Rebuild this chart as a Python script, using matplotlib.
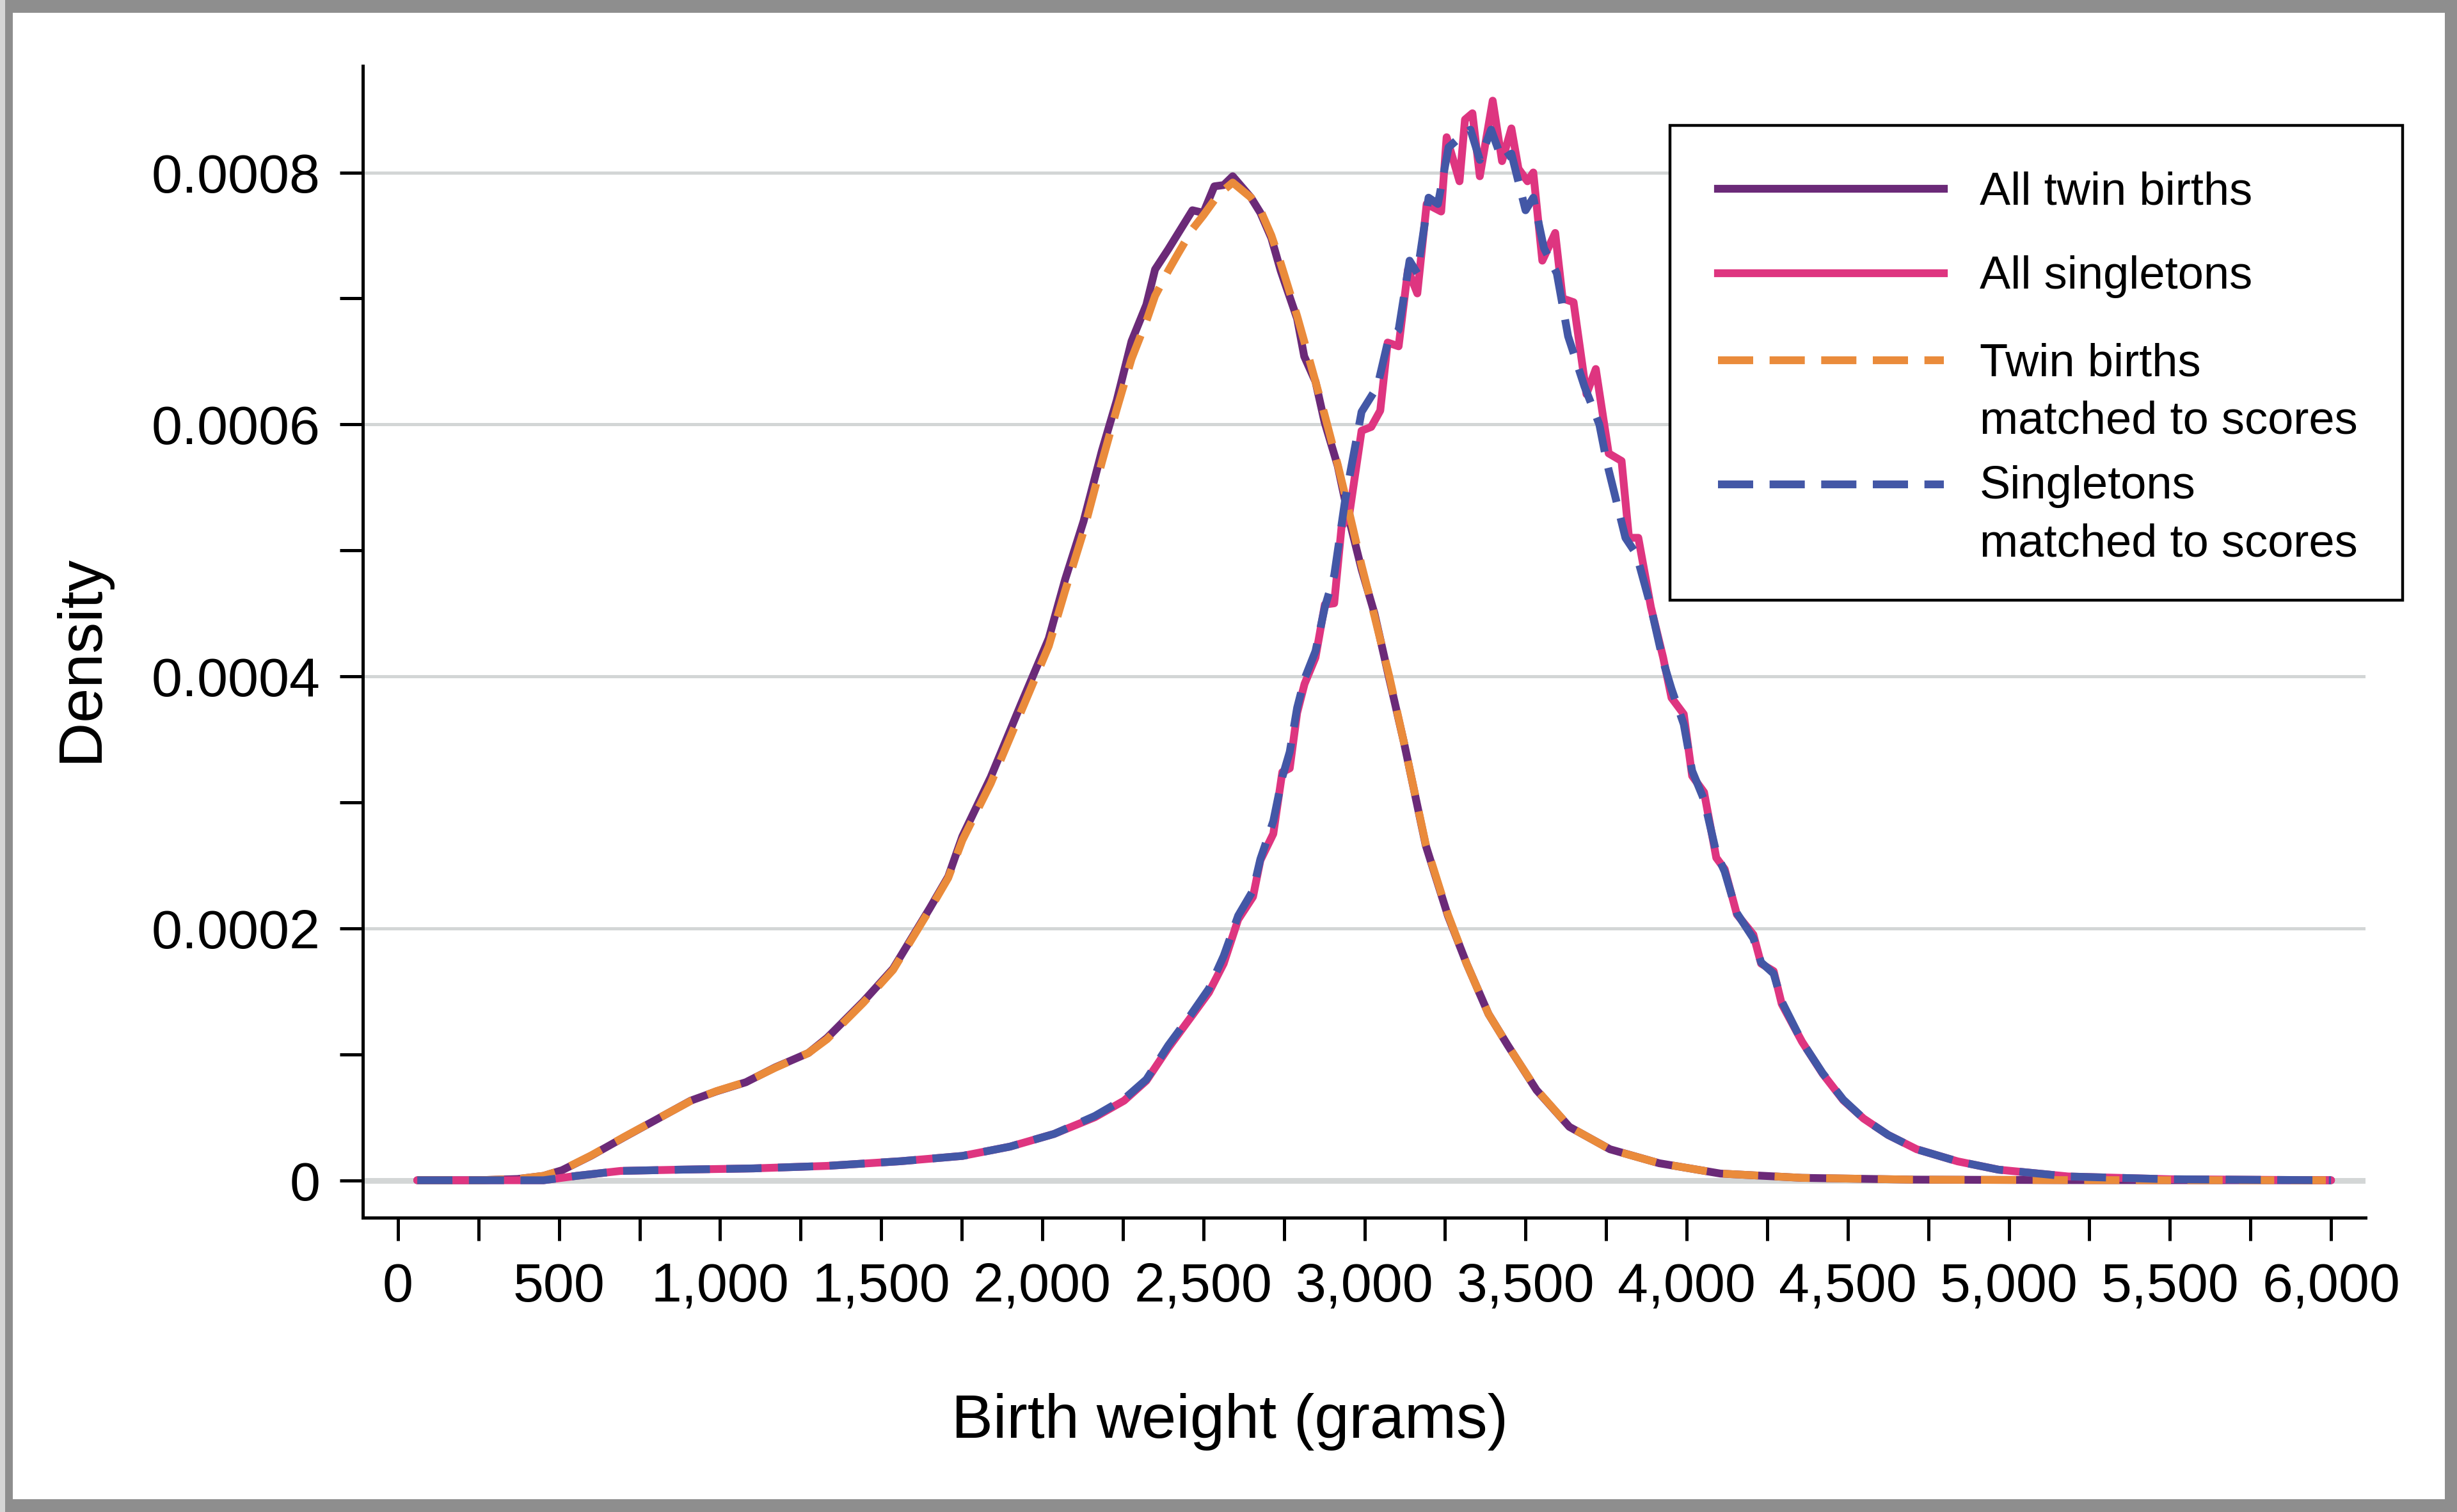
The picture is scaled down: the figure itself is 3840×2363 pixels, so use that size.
import numpy as np
import matplotlib
matplotlib.use("Agg")
import matplotlib.pyplot as plt
from matplotlib.lines import Line2D
from matplotlib.patches import Rectangle

# ---------------- data (density in units of 1e-4) ----------------
twin_bw = [60, 250, 372, 452, 509, 600, 703, 806, 909, 989, 1080, 1171, 1274, 1332, 1445,
           1537, 1594, 1651, 1708, 1752, 1840, 1934, 2020, 2071, 2128, 2185, 2231, 2277, 2323,
           2350, 2391, 2420, 2466, 2500, 2534, 2563, 2591, 2648, 2677, 2711, 2740, 2791, 2813,
           2848, 2876, 2917, 2951, 2991, 3031, 3077, 3123, 3190, 3259, 3317, 3385, 3445, 3534,
           3636, 3762, 3915, 4105, 4358, 4700, 5200, 6000]
twin_all = [0, 0, 0.01, 0.035, 0.079, 0.195, 0.343, 0.487, 0.632, 0.706, 0.778, 0.896, 1.01,
            1.13, 1.42, 1.68, 1.92, 2.16, 2.41, 2.73, 3.20, 3.78, 4.30, 4.77, 5.23, 5.79, 6.19,
            6.66, 6.95, 7.23, 7.39, 7.51, 7.70, 7.68, 7.89, 7.90, 7.97, 7.80, 7.68, 7.48, 7.22,
            6.84, 6.54, 6.34, 6.02, 5.67, 5.26, 4.85, 4.50, 3.98, 3.47, 2.66, 2.10, 1.72, 1.32,
            1.07, 0.716, 0.424, 0.246, 0.135, 0.053, 0.019, 0.005, 0.001, 0]
twin_matched = [0, 0, 0.01, 0.035, 0.080, 0.197, 0.345, 0.488, 0.630, 0.708, 0.780, 0.893, 1.01,
                1.12, 1.41, 1.67, 1.91, 2.15, 2.40, 2.70, 3.15, 3.72, 4.24, 4.68, 5.15, 5.70, 6.12,
                6.52, 6.82, 7.02, 7.22, 7.35, 7.55, 7.66, 7.78, 7.86, 7.92, 7.80, 7.70, 7.50, 7.28,
                6.86, 6.66, 6.34, 6.08, 5.68, 5.32, 4.88, 4.48, 4.00, 3.47, 2.67, 2.11, 1.72, 1.32,
                1.07, 0.72, 0.425, 0.245, 0.135, 0.053, 0.019, 0.005, 0.001, 0]

sing_bw = [60, 452, 555, 691, 874, 1103, 1332, 1560, 1752, 1900, 2037, 2163, 2254, 2323, 2391,
           2460, 2517, 2563, 2608, 2654, 2677, 2717, 2745, 2768, 2791, 2814, 2848, 2877, 2906,
           2929, 2952, 2991, 3021, 3049, 3072, 3106, 3135, 3164, 3193, 3238, 3255, 3295, 3312,
           3335, 3358, 3398, 3427, 3456, 3478, 3506, 3524, 3552, 3592, 3615, 3649, 3689, 3718,
           3758, 3798, 3821, 3850, 3889, 3927, 3953, 3991, 4017, 4054, 4092, 4118, 4156, 4207,
           4231, 4270, 4295, 4358, 4422, 4486, 4549, 4625, 4714, 4841, 4968, 5184, 5500, 6000]
sing_all = [0, 0, 0.035, 0.074, 0.084, 0.094, 0.114, 0.151, 0.193, 0.267, 0.368, 0.50, 0.632,
            0.79, 1.05, 1.29, 1.49, 1.72, 2.07, 2.25, 2.54, 2.75, 3.24, 3.27, 3.71, 3.94, 4.15,
            4.57, 4.58, 5.19, 5.27, 5.95, 5.98, 6.11, 6.65, 6.62, 7.23, 7.04, 7.75, 7.69, 8.28,
            7.93, 8.42, 8.47, 7.97, 8.57, 8.09, 8.35, 8.03, 7.93, 8.00, 7.30, 7.52, 7.00, 6.97,
            6.24, 6.44, 5.77, 5.71, 5.10, 5.10, 4.55, 4.15, 3.83, 3.70, 3.21, 3.08, 2.56, 2.47,
            2.11, 1.95, 1.72, 1.66, 1.40, 1.10, 0.846, 0.635, 0.49, 0.36, 0.246, 0.15, 0.084,
            0.030, 0.008, 0]

singm_bw = [60, 452, 555, 691, 874, 1103, 1332, 1560, 1752, 1900, 2037, 2163, 2254, 2323, 2391,
            2460, 2517, 2563, 2608, 2654, 2677, 2717, 2745, 2768, 2791, 2814, 2848, 2877, 2906,
            2940, 2991, 3040, 3072, 3106, 3140, 3164, 3199, 3228, 3261, 3306, 3329, 3358, 3393,
            3427, 3456, 3500, 3524, 3557, 3597, 3632, 3683, 3729, 3752, 3810, 3844, 3889, 3927,
            3953, 3991, 4017, 4054, 4092, 4118, 4156, 4207, 4231, 4270, 4295, 4358, 4422, 4486,
            4549, 4625, 4714, 4841, 4968, 5184, 5500, 6000]
sing_matched = [0, 0, 0.035, 0.074, 0.084, 0.094, 0.114, 0.151, 0.193, 0.267, 0.368, 0.51, 0.645,
                0.80, 1.07, 1.31, 1.52, 1.78, 2.10, 2.30, 2.55, 2.85, 3.20, 3.40, 3.75, 3.98, 4.20,
                4.55, 4.80, 5.40, 6.10, 6.30, 6.65, 6.75, 7.30, 7.20, 7.80, 7.75, 8.20, 8.30, 8.34,
                8.10, 8.34, 8.10, 8.15, 7.70, 7.80, 7.40, 7.20, 6.70, 6.30, 6.00, 5.70, 5.10, 4.97,
                4.55, 4.12, 3.90, 3.62, 3.25, 3.02, 2.60, 2.45, 2.12, 1.92, 1.73, 1.64, 1.42, 1.10,
                0.85, 0.64, 0.49, 0.36, 0.246, 0.15, 0.084, 0.03, 0.008, 0]

x_major = list(range(0, 6001, 500))
x_minor = list(range(250, 6000, 500))
y_major = [0, 0.0002, 0.0004, 0.0006, 0.0008]
y_major_labels = ["0", "0.0002", "0.0004", "0.0006", "0.0008"]
y_minor = [0.0001, 0.0003, 0.0005, 0.0007]

legend_labels = [["All twin births"], ["All singletons"],
                 ["Twin births", "matched to scores"], ["Singletons", "matched to scores"]]

# ---------------- style ----------------
PURPLE = "#6b2a78"
PINK = "#de3580"
ORANGE = "#ea8b3b"
BLUE = "#4357a6"
GRID = "#d3d6d6"
LW = 4.4
DASH = (4.5, 2.1)

plt.rcParams['font.family'] = ['Liberation Sans', 'DejaVu Sans']

W, H = 3841, 2363
DPI = 200
fig = plt.figure(figsize=(W / DPI, H / DPI), dpi=DPI, facecolor="white")


def fx(px):
    return px / W


def fy(py):
    return 1 - py / H


ax = fig.add_axes([fx(567), fy(1903), fx(3697) - fx(567), fy(103) - fy(1903)])

S = 1e-4
ax.plot(twin_bw, np.array(twin_all) * S, color=PURPLE, lw=LW, solid_joinstyle="round",
        solid_capstyle="round", zorder=3)
ax.plot(sing_bw, np.array(sing_all) * S, color=PINK, lw=LW, solid_joinstyle="round",
        solid_capstyle="round", zorder=4)
ax.plot(twin_bw, np.array(twin_matched) * S, color=ORANGE, lw=LW, dashes=DASH,
        dash_capstyle="butt", zorder=5)
ax.plot(singm_bw, np.array(sing_matched) * S, color=BLUE, lw=LW, dashes=DASH,
        dash_capstyle="butt", zorder=6)

ax.set_xlim(-109, 6107)
ax.set_ylim(-2.97e-5, 8.846e-4)

ax.set_xticks(x_major)
ax.set_xticklabels([f"{v:,}" for v in x_major])
ax.set_xticks(x_minor, minor=True)
ax.set_yticks(y_major)
ax.set_yticklabels(y_major_labels)
ax.set_yticks(y_minor, minor=True)

for side in ["top", "right"]:
    ax.spines[side].set_visible(False)
for side in ["left", "bottom"]:
    ax.spines[side].set_linewidth(1.8)

ax.tick_params(axis="both", which="both", direction="out", length=13, width=1.8,
               colors="black", labelsize=31)
ax.tick_params(axis="x", which="both", pad=12)
ax.tick_params(axis="y", which="both", pad=11)

ax.set_axisbelow(True)
ax.yaxis.grid(True, which="major", color=GRID, lw=1.8)
ax.axhline(0, color=GRID, lw=3.2, zorder=1)

ax.set_xlabel("Birth weight (grams)", fontsize=35)
ax.xaxis.set_label_coords(0.4329, -0.1772)
ax.xaxis.label.set_va("center")
ax.set_ylabel("Density", fontsize=35)
ax.yaxis.set_label_coords(-0.1406, 0.4856)
ax.yaxis.label.set_va("center")

# ---------------- legend (drawn manually to match layout) ----------------
fig.add_artist(Rectangle((fx(2610), fy(938)), fx(3755) - fx(2610), fy(196) - fy(938),
                         transform=fig.transFigure, facecolor="white", edgecolor="black",
                         lw=1.6, zorder=10))
handle_styles = [dict(color=PURPLE), dict(color=PINK),
                 dict(color=ORANGE, dashes=DASH, dash_capstyle="butt"),
                 dict(color=BLUE, dashes=DASH, dash_capstyle="butt")]
handle_y = [295, 427, 563, 757]
text_baselines = [[319], [451], [587, 677], [779, 869]]
for labels, hy, bls, st in zip(legend_labels, handle_y, text_baselines, handle_styles):
    fig.add_artist(Line2D([fx(2685), fx(3038)], [fy(hy), fy(hy)], lw=LW,
                          transform=fig.transFigure, zorder=11, **st))
    for lab, bl in zip(labels, bls):
        fig.text(fx(3094), fy(bl), lab, fontsize=26, ha="left", va="baseline", zorder=11)

# ---------------- outer frame ----------------
fig.add_artist(Rectangle((0, 0), 1, 1, transform=fig.transFigure, fill=False,
                         edgecolor="#8e8e8e", lw=14.4, zorder=20))
fig.add_artist(Rectangle((0, 0), fx(8), 1, transform=fig.transFigure, facecolor="#d6d6d6",
                         edgecolor="none", zorder=21))

fig.savefig("out.png", dpi=DPI, facecolor="white")
